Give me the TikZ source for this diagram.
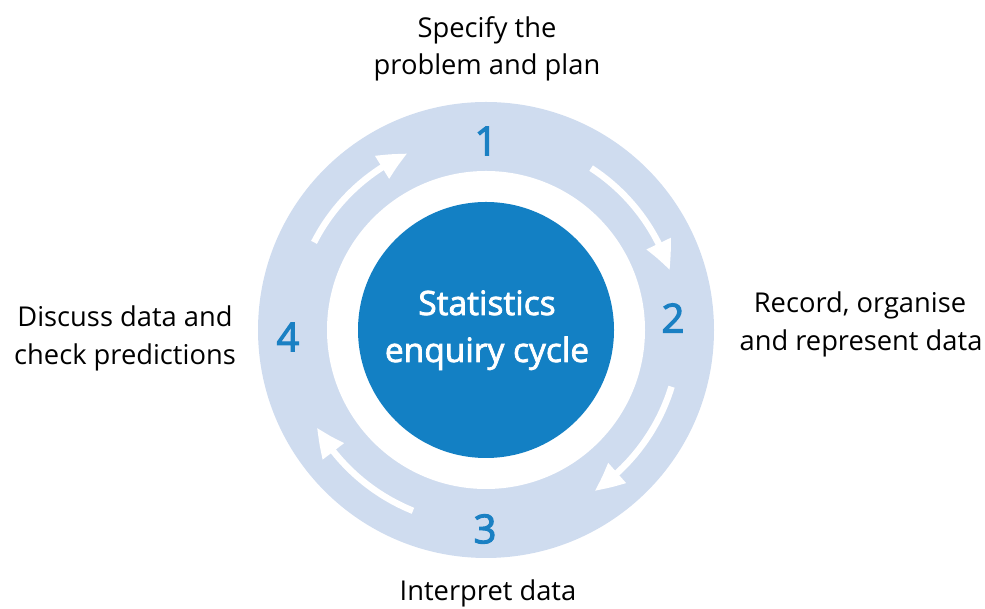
\documentclass[tikz,border=0pt]{standalone}
\usepackage{fontspec}
\setmainfont{Open Sans}
\newfontfamily\semib{Open Sans}[FakeBold=2.2]
\newfontfamily\numfont{Open Sans}[FakeBold=2.8]
\usetikzlibrary{arrows.meta,bending}
\definecolor{ringblue}{HTML}{CFDCEF}
\definecolor{coreblue}{HTML}{1380C4}
\definecolor{numblue}{HTML}{1A80C3}
\begin{document}
\begin{tikzpicture}[x=1pt,y=1pt,
  lab/.style={anchor=base,inner sep=0pt,font=\fontsize{27.3}{34}\selectfont,text=black},
  coretext/.style={anchor=base,inner sep=0pt,font=\semib\fontsize{33.5}{40}\selectfont,text=white},
  num/.style={inner sep=0pt,font=\numfont\fontsize{40}{46}\selectfont,text=numblue},
  flow/.style={white,line width=6.5pt,-{Triangle[width=25pt,length=29pt,bend]}}]
\useasboundingbox (0,0) rectangle (985,609);
\coordinate (C) at (486,279);
\fill[ringblue] (C) circle[radius=228pt];
\fill[white] (C) circle[radius=159pt];
\node[circle,fill=coreblue,minimum size=256pt,inner sep=0pt] (core) at (C) {};
\node[coretext] (ct1) at (487,294) {Statistics};
\node[coretext] (ct2) at (487,247) {enquiry cycle};
% numbers
\node[num] (n1) at (486,468) {1};
\node[num] (n2) at (673,291) {2};
\node[num] (n3) at (485,80) {3};
\node[num] (n4) at (288,272) {4};
% arrows
\draw[flow] ([shift={(57:193pt)}]C) arc[start angle=57,end angle=18,radius=193pt];
\draw[flow] ([shift={(-17:194pt)}]C) arc[start angle=-17,end angle=-56,radius=194pt];
\draw[flow] ([shift={(-112:195pt)}]C) arc[start angle=-112,end angle=-150,radius=195pt];
\draw[flow] ([shift={(153:193pt)}]C) arc[start angle=153,end angle=114,radius=193pt];
% labels
\node[lab] (l1a) at (487,571) {Specify the};
\node[lab] (l1b) at (487,534) {problem and plan};
\node[lab] (l2a) at (860,296) {Record, organise};
\node[lab] (l2b) at (861,258) {and represent data};
\node[lab] (l3) at (488,8) {Interpret data};
\node[lab] (l4a) at (125,282) {Discuss data and};
\node[lab] (l4b) at (125,244) {check predictions};
\end{tikzpicture}
\end{document}
